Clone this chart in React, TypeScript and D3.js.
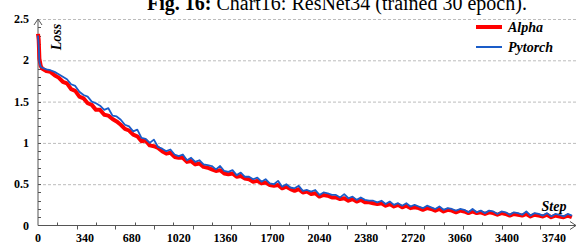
import React, { useEffect, useRef } from "react";
import * as d3 from "d3";

// steps (x categories): a few dense points at the start, then every 30 steps
const headSteps = [0, 5, 10, 20];
const steps = [...headSteps, ...d3.range(30, 3871, 30)];

const alphaLoss = [
  2.32, 2.25, 2.02, 1.93,
  1.90, 1.87, 1.86, 1.82, 1.79, 1.74, 1.72, 1.65, 1.63, 1.56,
  1.54, 1.48, 1.46, 1.40, 1.40, 1.34, 1.33, 1.29, 1.26, 1.22,
  1.17, 1.15, 1.10, 1.08, 1.02, 1.03, 0.97, 0.96, 0.94, 0.90,
  0.87, 0.88, 0.83, 0.82, 0.82, 0.77, 0.78, 0.74, 0.75, 0.71,
  0.70, 0.68, 0.66, 0.67, 0.63, 0.62, 0.63, 0.59, 0.60, 0.57,
  0.56, 0.53, 0.54, 0.51, 0.52, 0.49, 0.48, 0.49, 0.45, 0.47,
  0.44, 0.42, 0.44, 0.40, 0.41, 0.38, 0.39, 0.35, 0.37, 0.36,
  0.34, 0.34, 0.32, 0.33, 0.30, 0.32, 0.29, 0.31, 0.28, 0.28,
  0.27, 0.26, 0.27, 0.24, 0.26, 0.23, 0.25, 0.22, 0.24, 0.21,
  0.22, 0.21, 0.19, 0.21, 0.20, 0.18, 0.20, 0.17, 0.19, 0.18,
  0.16, 0.18, 0.17, 0.15, 0.17, 0.15, 0.16, 0.14, 0.16, 0.15,
  0.13, 0.15, 0.14, 0.12, 0.14, 0.13, 0.12, 0.14, 0.11, 0.13,
  0.12, 0.11, 0.13, 0.10, 0.12, 0.11, 0.10, 0.12, 0.10,
];

const pytorchLoss = [
  2.30, 2.17, 1.98, 1.92,
  1.91, 1.89, 1.88, 1.86, 1.83, 1.80, 1.77, 1.71, 1.69, 1.62,
  1.58, 1.56, 1.50, 1.48, 1.45, 1.40, 1.42, 1.33, 1.32, 1.28,
  1.22, 1.20, 1.14, 1.16, 1.06, 1.05, 1.00, 1.04, 0.95, 0.93,
  0.90, 0.92, 0.86, 0.84, 0.86, 0.79, 0.82, 0.77, 0.79, 0.74,
  0.73, 0.72, 0.68, 0.72, 0.66, 0.65, 0.67, 0.61, 0.64, 0.59,
  0.59, 0.56, 0.58, 0.53, 0.56, 0.51, 0.50, 0.54, 0.47, 0.50,
  0.46, 0.45, 0.48, 0.42, 0.43, 0.41, 0.43, 0.37, 0.40, 0.39,
  0.37, 0.37, 0.34, 0.38, 0.33, 0.35, 0.31, 0.34, 0.31, 0.30,
  0.30, 0.28, 0.30, 0.26, 0.29, 0.25, 0.27, 0.24, 0.27, 0.23,
  0.25, 0.23, 0.21, 0.24, 0.22, 0.20, 0.23, 0.19, 0.21, 0.20,
  0.18, 0.20, 0.19, 0.16, 0.20, 0.16, 0.18, 0.15, 0.18, 0.17,
  0.14, 0.17, 0.16, 0.13, 0.16, 0.15, 0.13, 0.17, 0.12, 0.15,
  0.14, 0.12, 0.15, 0.11, 0.14, 0.13, 0.11, 0.14, 0.12,
];

const xLabels = [0, 340, 680, 1020, 1360, 1700, 2040, 2380, 2720, 3060, 3400, 3740];
const yLabels = [0, 0.5, 1, 1.5, 2, 2.5];
const seriesNames = ["Alpha", "Pytorch"];
const seriesColors = ["#ff0000", "#1a5cc8"];

const App = () => {
  const ref = useRef<SVGSVGElement>(null);

  useEffect(() => {
    draw();
  });

  const draw = () => {
    const svg = d3.select(ref.current);
    svg.selectAll("*").remove();

    const x = d3.scaleLinear().domain([0, 3900]).range([38, 576]);
    const y = d3.scaleLinear().domain([0, 2.5]).range([225.5, 19]);
    const axisColor = "#555";
    const serif = "Liberation Serif";

    // title, clipped at the top of the picture
    const title = svg
      .append("text")
      .attr("x", 147)
      .attr("y", 10)
      .attr("font-family", serif)
      .attr("font-size", 20)
      .attr("fill", "#000");
    title.append("tspan").attr("font-weight", "bold").text("Fig. 16:");
    title.append("tspan").text(" Chart16: ResNet34 (trained 30 epoch).");

    // dashed grid
    svg
      .append("g")
      .selectAll("line")
      .data(yLabels.filter((d) => d > 0))
      .join("line")
      .attr("x1", x(0))
      .attr("x2", x(3900))
      .attr("y1", (d) => y(d) + 0.5)
      .attr("y2", (d) => y(d) + 0.5)
      .attr("stroke", "#bcbcbc")
      .attr("stroke-dasharray", "3,2");

    // y axis
    const gy = svg.append("g").attr("stroke", axisColor).attr("stroke-width", 1);
    gy.append("line").attr("x1", x(0)).attr("x2", x(0)).attr("y1", y(0)).attr("y2", y(2.5));
    gy.append("path")
      .attr("d", `M${x(0) - 4},${y(2.5) + 6}L${x(0)},${y(2.5)}L${x(0) + 4},${y(2.5) + 6}`)
      .attr("fill", "none");
    gy.selectAll("line.minor")
      .data(d3.range(0.1, 2.5, 0.1))
      .join("line")
      .attr("class", "minor")
      .attr("x1", x(0))
      .attr("x2", x(0) + 3)
      .attr("y1", (d) => Math.round(y(d)) + 0.5)
      .attr("y2", (d) => Math.round(y(d)) + 0.5);

    svg
      .append("g")
      .selectAll("text")
      .data(yLabels)
      .join("text")
      .attr("x", 29)
      .attr("y", (d) => y(d) + 4)
      .attr("text-anchor", "end")
      .attr("font-family", serif)
      .attr("font-weight", "bold")
      .attr("font-size", 12)
      .text((d) => String(d));

    // x axis
    const gx = svg.append("g").attr("stroke", axisColor).attr("stroke-width", 1);
    gx.append("line").attr("x1", x(0)).attr("x2", x(3900)).attr("y1", y(0)).attr("y2", y(0));
    gx.append("path")
      .attr("d", `M${x(3900) - 6},${y(0) - 4}L${x(3900)},${y(0)}L${x(3900) - 6},${y(0) + 4}`)
      .attr("fill", "none");
    gx.selectAll("line.major")
      .data(d3.range(280, 3850, 280))
      .join("line")
      .attr("class", "major")
      .attr("x1", (d) => Math.round(x(d)) + 0.5)
      .attr("x2", (d) => Math.round(x(d)) + 0.5)
      .attr("y1", y(0))
      .attr("y2", y(0) + 4);
    gx.selectAll("line.minor")
      .data(d3.range(140, 3850, 280))
      .join("line")
      .attr("class", "minor")
      .attr("x1", (d) => Math.round(x(d)) + 0.5)
      .attr("x2", (d) => Math.round(x(d)) + 0.5)
      .attr("y1", y(0))
      .attr("y2", y(0) - 3);

    svg
      .append("g")
      .selectAll("text")
      .data(xLabels)
      .join("text")
      .attr("x", (d) => x(d))
      .attr("y", 242)
      .attr("text-anchor", "middle")
      .attr("font-family", serif)
      .attr("font-weight", "bold")
      .attr("font-size", 12)
      .text((d) => String(d));

    // axis titles
    svg
      .append("text")
      .attr("transform", `translate(61,37) rotate(-90)`)
      .attr("text-anchor", "middle")
      .attr("font-family", serif)
      .attr("font-style", "italic")
      .attr("font-weight", "bold")
      .attr("font-size", 14)
      .text("Loss");
    svg
      .append("text")
      .attr("x", 554)
      .attr("y", 211)
      .attr("text-anchor", "middle")
      .attr("font-family", serif)
      .attr("font-style", "italic")
      .attr("font-weight", "bold")
      .attr("font-size", 14)
      .text("Step");

    // series
    const line = d3
      .line<number>()
      .x((d, i) => x(steps[i]))
      .y((d) => y(d))
      .curve(d3.curveLinear);

    svg
      .append("path")
      .datum(alphaLoss)
      .attr("fill", "none")
      .attr("stroke", seriesColors[0])
      .attr("stroke-width", 4)
      .attr("stroke-linejoin", "round")
      .attr("d", line);
    svg
      .append("path")
      .datum(pytorchLoss)
      .attr("fill", "none")
      .attr("stroke", seriesColors[1])
      .attr("stroke-width", 1.8)
      .attr("stroke-linejoin", "round")
      .attr("d", line);

    // legend
    const legend = svg
      .append("g")
      .selectAll("g")
      .data(seriesNames)
      .join("g")
      .attr("transform", (d, i) => `translate(476,${27 + i * 20})`);
    legend
      .append("line")
      .attr("x1", 0)
      .attr("x2", 26)
      .attr("stroke", (d, i) => seriesColors[i])
      .attr("stroke-width", (d, i) => (i === 0 ? 4 : 2));
    legend
      .append("text")
      .attr("x", 32)
      .attr("y", 5)
      .attr("font-family", serif)
      .attr("font-style", "italic")
      .attr("font-weight", "bold")
      .attr("font-size", 14)
      .text((d) => d);
  };

  return (
    <svg
      ref={ref}
      width={582}
      height={244}
      style={{ position: "absolute", left: 0, top: 0, background: "#fff" }}
    />
  );
};

export default App;
